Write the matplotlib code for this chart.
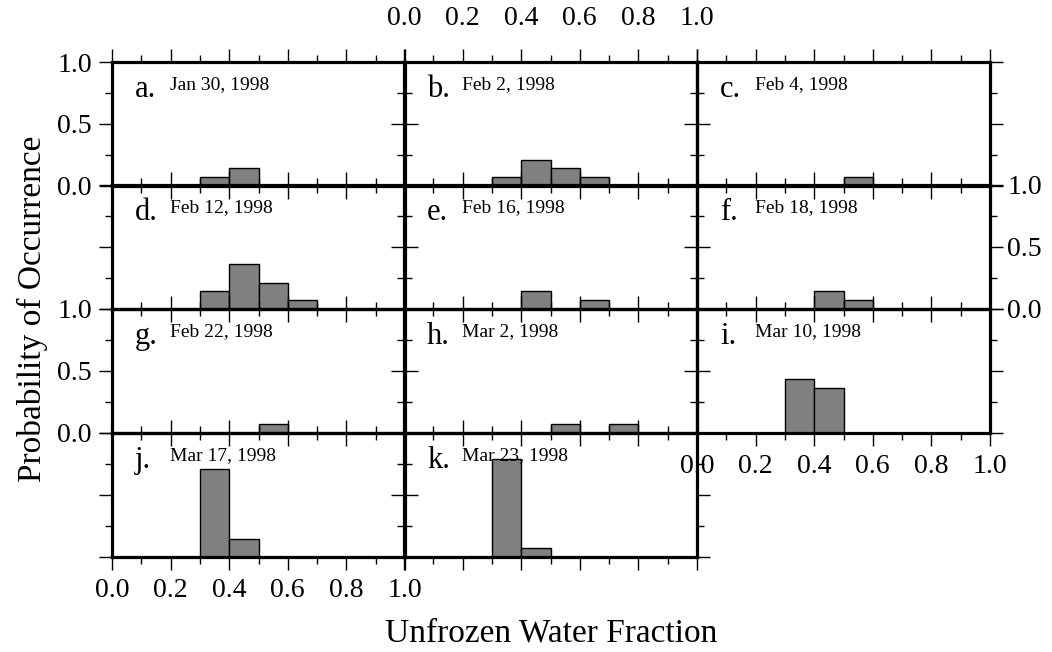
import matplotlib
matplotlib.use("Agg")
import matplotlib.pyplot as plt
from matplotlib.ticker import MultipleLocator

plt.rcParams['font.family'] = ['Liberation Serif', 'DejaVu Serif']

# data
letters = ["a.", "b.", "c.", "d.", "e.", "f.", "g.", "h.", "i.", "j.", "k."]
dates = ["Jan 30, 1998", "Feb 2, 1998", "Feb 4, 1998", "Feb 12, 1998",
         "Feb 16, 1998", "Feb 18, 1998", "Feb 22, 1998", "Mar 2, 1998",
         "Mar 10, 1998", "Mar 17, 1998", "Mar 23, 1998"]
bin_left = [0.0, 0.1, 0.2, 0.3, 0.4, 0.5, 0.6, 0.7, 0.8, 0.9]
probs = [
    [0, 0, 0, 0.07, 0.14, 0, 0, 0, 0, 0],
    [0, 0, 0, 0.07, 0.21, 0.14, 0.07, 0, 0, 0],
    [0, 0, 0, 0, 0, 0.07, 0, 0, 0, 0],
    [0, 0, 0, 0.14, 0.36, 0.21, 0.07, 0, 0, 0],
    [0, 0, 0, 0, 0.14, 0, 0.07, 0, 0, 0],
    [0, 0, 0, 0, 0.14, 0.07, 0, 0, 0, 0],
    [0, 0, 0, 0, 0, 0.07, 0, 0, 0, 0],
    [0, 0, 0, 0, 0, 0.07, 0, 0.07, 0, 0],
    [0, 0, 0, 0.43, 0.36, 0, 0, 0, 0, 0],
    [0, 0, 0, 0.71, 0.14, 0, 0, 0, 0, 0],
    [0, 0, 0, 0.79, 0.07, 0, 0, 0, 0, 0],
]
x_ticks = [0.0, 0.2, 0.4, 0.6, 0.8, 1.0]
y_ticks = [0.0, 0.5, 1.0]

W, H = 1052, 652
fig = plt.figure(figsize=(W / 100, H / 100), dpi=100)

col_x = [112, 404, 697]
col_w = 293
row_top = [62, 185, 309, 433]
row_h = 123.5

# which panel shows which tick labels
labels_on = {0: "left", 1: "top", 5: "right", 6: "left", 8: "bottom", 9: "bottom"}

for i in range(11):
    r, c = divmod(i, 3)
    ax = fig.add_axes([col_x[c] / W, 1 - (row_top[r] + row_h) / H,
                       col_w / W, row_h / H])
    ax.set_facecolor("none")
    ax.set_xlim(0, 1)
    ax.set_ylim(0, 1)

    xs = [b for b, p in zip(bin_left, probs[i]) if p > 0]
    ps = [p for p in probs[i] if p > 0]
    ax.bar(xs, ps, width=0.1, align="edge", color="#808080",
           edgecolor="black", linewidth=1.0)

    ax.set_xticks(x_ticks)
    ax.set_yticks(y_ticks)
    ax.xaxis.set_minor_locator(MultipleLocator(0.1))
    ax.yaxis.set_minor_locator(MultipleLocator(0.25))
    ax.xaxis.set_major_formatter(lambda v, pos: f"{v:.1f}")
    ax.yaxis.set_major_formatter(lambda v, pos: f"{v:.1f}")

    for s in ax.spines.values():
        s.set_linewidth(2.3)

    ax.tick_params(which="both", direction="out", top=True, bottom=True,
                   left=True, right=True, width=1.0,
                   labeltop=False, labelbottom=False,
                   labelleft=False, labelright=False, labelsize=20)
    ax.tick_params(which="major", length=9.5)
    ax.tick_params(which="minor", length=5)

    side = labels_on.get(i)
    if side == "left":
        ax.tick_params(axis="y", which="major", labelleft=True, pad=5)
    elif side == "right":
        ax.tick_params(axis="y", which="major", labelright=True, pad=3)
    elif side == "top":
        ax.tick_params(axis="x", which="major", labeltop=True, pad=13)
    elif side == "bottom":
        ax.tick_params(axis="x", which="major", labelbottom=True, pad=6)

    ax.text(0.079, 0.717, letters[i], transform=ax.transAxes,
            fontsize=22, va="baseline", ha="left")
    ax.text(0.198, 0.78, dates[i], transform=ax.transAxes,
            fontsize=14, va="baseline", ha="left")

fig.text(32 / W, 1 - 309 / H, "Probability of Occurrence", rotation=90,
         fontsize=24, ha="center", va="center")
fig.text(551 / W, 1 - 633 / H, "Unfrozen Water Fraction",
         fontsize=24, ha="center", va="center")

fig.savefig("out.png", dpi=100)
